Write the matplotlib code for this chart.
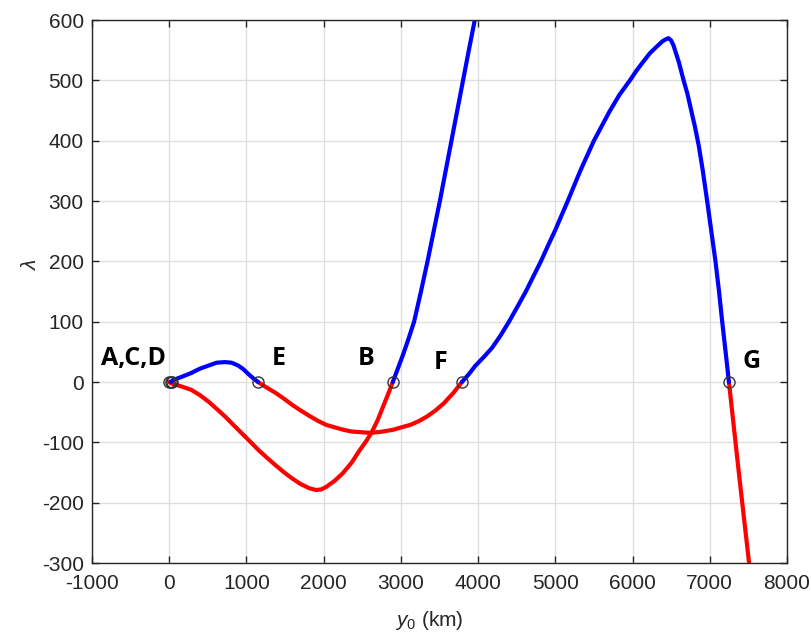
import numpy as np
import matplotlib.pyplot as plt

# branch data (y0 in km, lambda)
ad_blue_x = [20, 46, 170, 286, 395, 504, 613, 722, 809, 897, 962, 1027, 1090, 1150]
ad_blue_y = [0, 3, 9, 15, 22, 27, 32, 33, 32, 27, 21, 13, 6, 0]

ef_red_x = [1150, 1260, 1377, 1490, 1594, 1700, 1813, 1920, 2031, 2140, 2249, 2360, 2467, 2560, 2641,
            2770, 2903, 3010, 3122, 3230, 3340, 3450, 3558, 3680, 3790]
ef_red_y = [0, -9, -18, -28, -38, -47, -56, -64, -71, -75, -79, -82, -83, -84, -84,
            -82, -79, -75, -71, -65, -57, -47, -35, -18, 0]

ab_red_x = [0, 24, 150, 286, 400, 504, 610, 722, 830, 940, 1050, 1158, 1270, 1377, 1490, 1594,
            1700, 1813, 1900, 1970, 2031, 2140, 2249, 2360, 2467, 2545, 2620, 2700, 2772, 2835, 2895]
ab_red_y = [0, -2, -7, -13, -22, -32, -44, -57, -71, -85, -99, -113, -126, -138, -150, -160,
            -169, -176, -179, -178, -174, -164, -151, -134, -113, -99, -84, -63, -40, -20, 0]

b_blue_x = [2895, 2960, 3030, 3100, 3171, 3260, 3345, 3425, 3505, 3580, 3655, 3730, 3805, 3880, 3957]
b_blue_y = [0, 22, 46, 72, 100, 150, 200, 250, 300, 350, 400, 450, 500, 550, 600]

fg_blue_x = [3790, 3880, 3965, 4070, 4183, 4290, 4400, 4510, 4618, 4715, 4813, 4905, 5000, 5080,
             5161, 5245, 5330, 5415, 5500, 5600, 5700, 5830, 5966, 6050, 6139, 6225, 6313, 6390,
             6430, 6466, 6500, 6530, 6600, 6661, 6710, 6760, 6810, 6857, 6910, 6966, 7020, 7074,
             7120, 7161, 7205, 7248]
fg_blue_y = [0, 13, 27, 41, 57, 77, 100, 125, 150, 175, 200, 226, 252, 276,
             300, 326, 352, 376, 400, 424, 448, 476, 500, 516, 531, 545, 556, 565,
             568, 570, 566, 558, 530, 500, 478, 450, 422, 392, 350, 300, 250, 200,
             150, 100, 50, 0]

g_red_x = [7248, 7378, 7509]
g_red_y = [0, -152, -300]

pts_x = [0, 20, 40, 1150, 2895, 3790, 7248]
pts_y = [0, 0, 0, 0, 0, 0, 0]

labels = ['A,C,D', 'E', 'B', 'F', 'G']
label_x = [-463, 1416, 2548, 3512, 7540]
label_y = [29, 29, 29, 21, 24]

plt.rcParams['font.family'] = ['Liberation Sans', 'DejaVu Sans']
plt.rcParams['mathtext.fontset'] = 'custom'
plt.rcParams['mathtext.it'] = 'Liberation Sans:italic'
plt.rcParams['mathtext.rm'] = 'Liberation Sans'
plt.rcParams['axes.unicode_minus'] = False

fig = plt.figure(figsize=(8.12, 6.4), dpi=100)
ax = fig.add_axes([0.1133, 0.1203, 0.8559, 0.8484])

lw = 3.0
for bx, by, col in [(ab_red_x, ab_red_y, '#ff0000'), (ef_red_x, ef_red_y, '#ff0000'),
                    (g_red_x, g_red_y, '#ff0000'), (ad_blue_x, ad_blue_y, '#0000ff'),
                    (b_blue_x, b_blue_y, '#0000ff'), (fg_blue_x, fg_blue_y, '#0000ff')]:
    ax.plot(bx, by, color=col, lw=lw, solid_capstyle='round', solid_joinstyle='round')
ax.plot(pts_x, pts_y, 'o', mfc='none', mec='#333333', ms=8, mew=1.0, zorder=5)

for txt, tx, ty in zip(labels, label_x, label_y):
    ax.text(tx, ty, txt, ha='center', va='baseline', fontsize=18,
            fontweight='bold', family='Open Sans', color='black')

ax.set_xlim(-1000, 8000)
ax.set_ylim(-300, 600)
ax.set_xticks(np.arange(-1000, 8001, 1000))
ax.set_yticks(np.arange(-300, 601, 100))
ax.grid(True, color='#dfdfdf', lw=1.0)
ax.set_axisbelow(True)
ax.tick_params(direction='in', length=5, width=1, colors='#262626', labelsize=15,
               top=True, right=True)
ax.tick_params(axis='x', pad=8)
ax.tick_params(axis='y', pad=6)
for s in ax.spines.values():
    s.set_color('#262626')
    s.set_linewidth(1.0)

ax.set_xlabel(r'$y_{\mathit{0}}$ (km)', fontsize=15, color='#262626')
ax.set_ylabel(r'$\lambda$', fontsize=15, color='#262626')
ax.xaxis.set_label_coords(0.485, -0.085)
ax.yaxis.set_label_coords(-0.075, 0.55)

fig.savefig('out.png', dpi=100)
